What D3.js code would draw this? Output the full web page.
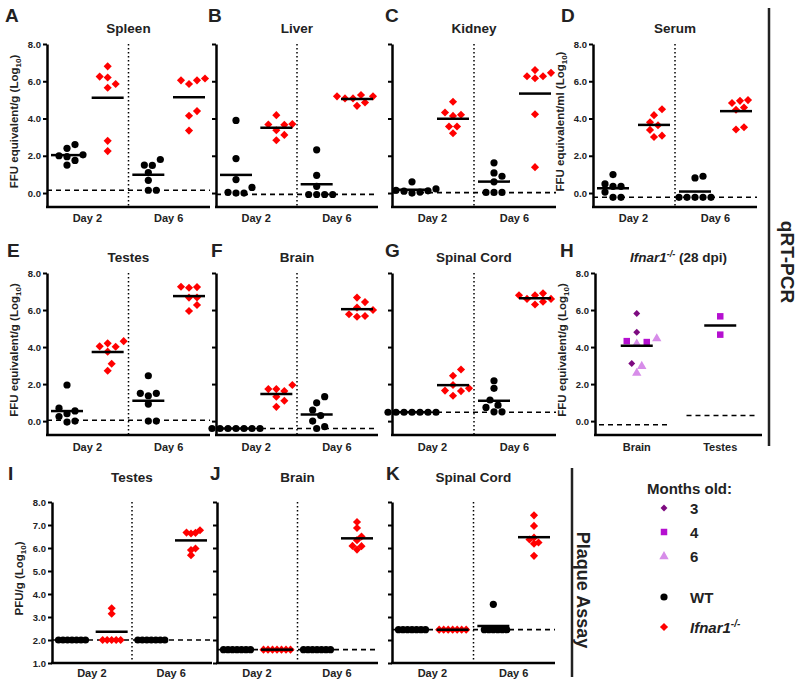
<!DOCTYPE html>
<html lang="en">
<head>
<meta charset="UTF-8">
<title>Viral load by organ</title>
<style>
  body { margin: 0; background: #fff; }
  svg text { font-family: "Liberation Sans", Arial, sans-serif; fill: #222; }
</style>
</head>
<body>
<div class="chart"></div>
<script src="https://cdn.jsdelivr.net/npm/d3@7"></script>
<script>
var W = 800, H = 687;

// columns per panel: WT day 2, Ifnar1 day 2, WT day 6, Ifnar1 day 6
var days = ["Day 2", "Day 6"];
var yTicksQ = [0, 2, 4, 6, 8];
var yTicksP = [1, 2, 3, 4, 5, 6, 7, 8];

// qRT-PCR, log10 FFU equivalents
var spleen = [[2.4, 2.6, 2.05, 2.0, 1.95, 1.5, 1.75], [6.8, 6.2, 6.25, 5.85, 5.65, 2.8, 2.25], [1.8, 1.5, 1.48, 1.1, 0.68, 0.15, 0.15], [6.05, 5.85, 6.05, 6.15, 4.4, 4.15, 3.35]];
var liver = [[3.9, 1.85, 0.72, 0.3, 0.04, 0.0, 0.0], [4.18, 3.7, 3.66, 3.68, 3.37, 3.12, 2.83], [2.32, 0.95, 0.36, -0.08, -0.08, -0.08, -0.08], [5.26, 5.19, 5.19, 5.08, 5.08, 4.86, 4.68]];
var kidney = [[0.6, 0.22, 0.15, 0.12, 0.05, 0.0, 0.1], [4.9, 4.2, 4.14, 4.32, 3.57, 3.57, 3.21], [1.62, 0.9, 1.08, 0.6, 0.03, 0.03, 0.03], [6.6, 6.27, 6.27, 6.16, 6.45, 4.23, 1.39]];
var serum = [[0.99, 0.36, 0.49, 0.05, 0.36, -0.23, -0.23], [4.5, 4.18, 3.8, 3.39, 3.64, 3.01, 3.08], [0.9, 0.81, -0.23, -0.23, -0.23, -0.23, -0.23], [4.95, 4.59, 4.47, 4.83, 4.99, 3.41, 3.53]];
var testesQ = [[1.95, 0.7, 0.55, 0.4, 0.25, 0.0, -0.05], [4.2, 4.02, 4.32, 4.04, 3.75, 3.1, 2.72], [2.45, 1.5, 1.5, 1.37, 0.92, 0.0, 0.0], [7.26, 7.2, 7.24, 6.68, 6.67, 6.27, 5.95]];
var brainQ = [[-0.4, -0.4, -0.4, -0.4, -0.4, -0.4, -0.4], [1.95, 1.73, 1.73, 1.62, 1.32, 1.1, 0.77], [1.32, 0.99, 0.6, 0.3, 0.0, -0.3, -0.4], [6.67, 6.43, 6.13, 6.0, 5.77, 5.64, 5.68]];
var spinalQ = [[0.48, 0.48, 0.48, 0.48, 0.48, 0.48, 0.48], [2.79, 2.45, 1.95, 1.62, 1.37, 1.77, 1.65], [2.18, 1.77, 1.14, 0.86, 0.74, 0.5, 0.5], [6.9, 6.8, 6.8, 6.6, 6.6, 6.3, 6.45]];
var limitsQ = [0.15, -0.07, 0.02, -0.23, 0.05, -0.4, 0.48];

// Ifnar1-/- 28 dpi, by age in months
var hCats = ["Brain", "Testes"];
var brain28m3 = [5.81, 4.8, 3.11];
var brain28m4 = [4.27, 4.32];
var brain28m6 = [4.48, 4.2, 2.62, 2.99];
var testes28m4 = [5.66, 4.67];
var limits28 = [-0.2, 0.3];

// plaque assay, log10 PFU/g
var testesP = [[2.0, 2.0, 2.0, 2.0, 2.0, 2.0, 2.0], [3.38, 3.14, 2.0, 2.0, 2.0, 2.0, 2.0], [2.0, 2.0, 2.0, 2.0, 2.0, 2.0, 2.0], [6.77, 6.66, 6.63, 6.67, 5.98, 5.69, 5.91]];
var brainP = [[1.58, 1.58, 1.58, 1.58, 1.58, 1.58, 1.58], [1.58, 1.58, 1.58, 1.58, 1.58, 1.58, 1.58], [1.58, 1.58, 1.58, 1.58, 1.58, 1.58, 1.58], [7.13, 6.87, 6.5, 6.34, 6.09, 6.08, 5.93]];
var spinalP = [[2.45, 2.45, 2.45, 2.45, 2.45, 2.45, 2.45], [2.45, 2.45, 2.45, 2.45, 2.45, 2.45, 2.45], [3.55, 2.45, 2.45, 2.45, 2.45, 2.45, 2.45], [7.42, 6.96, 6.45, 6.37, 6.24, 6.19, 5.66]];
var limitsP = [2.0, 1.58, 2.45];

var colWT = "#000", colKO = "#ff0000";
var colAge = {m3: "#7d0a80", m4: "#b510d0", m6: "#d78de9"};

var svg = d3.select(".chart").append("svg")
    .attr("width", W).attr("height", H);

var rows = [
    {domain: [-0.75, 8], range: [207, 44], ticks: yTicksQ, letterY: 22, titleY: 33, dayY: 222, minD: 7.5, step: 4},
    {domain: [-0.75, 8], range: [435, 273], ticks: yTicksQ, letterY: 257, titleY: 262, dayY: 451, minD: 7.5, step: 4},
    {domain: [1, 8], range: [663, 502], ticks: yTicksP, letterY: 480, titleY: 482, dayY: 677, minD: 4.5, step: 4.5}
];

var panels = [
    {letter: "A", row: 0, x0: 47, x1: 210, lx: 5, title: "Spleen", data: spleen, limit: limitsQ[0], ylab: "FFU equivalent/g"},
    {letter: "B", row: 0, x0: 216, x1: 378, lx: 208, title: "Liver", data: liver, limit: limitsQ[1]},
    {letter: "C", row: 0, x0: 392, x1: 556, lx: 385, title: "Kidney", data: kidney, limit: limitsQ[2]},
    {letter: "D", row: 0, x0: 593, x1: 757, lx: 561, title: "Serum", data: serum, limit: limitsQ[3], ylab: "FFU equivalent/ml"},
    {letter: "E", row: 1, x0: 47, x1: 210, lx: 7, title: "Testes", data: testesQ, limit: limitsQ[4], ylab: "FFU equivalent/g"},
    {letter: "F", row: 1, x0: 216, x1: 378, lx: 211, title: "Brain", data: brainQ, limit: limitsQ[5]},
    {letter: "G", row: 1, x0: 392, x1: 556, lx: 385, title: "Spinal Cord", data: spinalQ, limit: limitsQ[6]},
    {letter: "I", row: 2, x0: 52, x1: 212, lx: 8, title: "Testes", data: testesP, limit: limitsP[0], ylab: "PFU/g"},
    {letter: "J", row: 2, x0: 217, x1: 378, lx: 210, title: "Brain", data: brainP, limit: limitsP[1]},
    {letter: "K", row: 2, x0: 392, x1: 555, lx: 386, title: "Spinal Cord", data: spinalP, limit: limitsP[2]}
];

var diamond = d3.symbol(d3.symbolSquare, 33);

// spread points that would overlap sideways, like a column scatter
function dodge(vals, y, cx, minD, step) {
    var placed = [];
    vals.map(function(v, i) { return {v: v, i: i}; })
        .sort(function(a, b) { return a.v - b.v; })
        .forEach(function(o) {
            var py = y(o.v);
            for (var k = 0; k < 60; k++) {
                var off = (k === 0 ? 0 : (k % 2 ? 1 : -1) * Math.ceil(k / 2)) * step;
                var ok = placed.every(function(p) {
                    return Math.pow(p.x - (cx + off), 2) + Math.pow(p.y - py, 2) >= minD * minD;
                });
                if (ok) { placed.push({x: cx + off, y: py, v: o.v, src: o.i}); break; }
            }
        });
    return placed;
}

function drawMark(g, p, kind, color) {
    if (kind === "circle") {
        g.append("circle").attr("cx", p.x).attr("cy", p.y).attr("r", 3.6).attr("fill", color);
    } else if (kind === "diamond") {
        g.append("path").attr("d", diamond).attr("fill", color)
            .attr("transform", "translate(" + p.x + "," + p.y + ") rotate(45)");
    } else if (kind === "smalldiamond") {
        g.append("path").attr("d", d3.symbol(d3.symbolSquare, 24)).attr("fill", color)
            .attr("transform", "translate(" + p.x + "," + p.y + ") rotate(45)");
    } else if (kind === "square") {
        g.append("path").attr("d", d3.symbol(d3.symbolSquare, 42)).attr("fill", color)
            .attr("transform", "translate(" + p.x + "," + p.y + ")");
    } else if (kind === "triangle") {
        g.append("path").attr("d", d3.symbol(d3.symbolTriangle, 38)).attr("fill", color)
            .attr("transform", "translate(" + p.x + "," + (p.y + 0.5) + ")");
    }
}

function yLabel(text, x, cy) {
    var t = svg.append("text")
        .attr("transform", "translate(" + x + "," + cy + ") rotate(-90)")
        .attr("text-anchor", "middle")
        .attr("dy", "0.35em")
        .style("font-size", "11.5px").style("font-weight", "bold");
    t.append("tspan").text(text + " (Log");
    t.append("tspan").attr("dy", 3).style("font-size", "8px").text("10");
    t.append("tspan").attr("dy", -3).text(")");
}

function frame(p, rc, y) {
    var g = svg.append("g");
    var yAxis = d3.axisLeft(y).tickValues(rc.ticks).tickSize(4).tickSizeOuter(0)
        .tickFormat(p.ylab ? d3.format(".1f") : "");
    var ax = g.append("g").attr("transform", "translate(" + p.x0 + ",0)").call(yAxis);
    ax.select(".domain").attr("stroke", "#000").attr("stroke-width", 2.5);
    ax.selectAll(".tick line").attr("stroke", "#000").attr("stroke-width", 2);
    ax.selectAll(".tick text").attr("x", -6).style("font-size", "9.5px")
        .style("font-weight", "bold").style("font-family", "Liberation Sans, Arial, sans-serif").attr("fill", "#333");
    g.append("line").attr("x1", p.x0 - 1).attr("x2", p.x1)
        .attr("y1", rc.range[0]).attr("y2", rc.range[0])
        .attr("stroke", "#000").attr("stroke-width", 2.5);
    svg.append("text").attr("x", p.lx).attr("y", rc.letterY)
        .style("font-size", "19px").style("font-weight", "bold").attr("fill", "#111").text(p.letter);
    return g;
}

panels.forEach(function(p) {
    var rc = rows[p.row];
    var y = d3.scaleLinear().domain(rc.domain).range(rc.range);
    var x = d3.scalePoint().domain([0, 1, 2, 3]).range([p.x0 + 20, p.x1 - 21]);
    var g = svg.append("g");

    // detection limit and day divider
    g.append("line").attr("x1", p.x0).attr("x2", p.x1)
        .attr("y1", y(p.limit)).attr("y2", y(p.limit))
        .attr("stroke", "#000").attr("stroke-width", 1.6).attr("stroke-dasharray", "5,4");
    var mid = (p.x0 + p.x1) / 2;
    g.append("line").attr("x1", mid).attr("x2", mid)
        .attr("y1", rc.range[1]).attr("y2", rc.range[0])
        .attr("stroke", "#000").attr("stroke-width", 1.5).attr("stroke-dasharray", "1.5,2.5");

    p.data.forEach(function(vals, i) {
        var pts = dodge(vals, y, x(i), rc.minD, rc.step);
        pts.forEach(function(pt) {
            drawMark(g, pt, i % 2 ? "diamond" : "circle", i % 2 ? colKO : colWT);
        });
        var m = d3.mean(vals);
        g.append("line").attr("x1", x(i) - 16).attr("x2", x(i) + 16)
            .attr("y1", y(m)).attr("y2", y(m))
            .attr("stroke", "#000").attr("stroke-width", 2.5);
    });

    frame(p, rc, y);

    svg.append("text").attr("x", mid).attr("y", rc.titleY).attr("text-anchor", "middle")
        .style("font-size", "13.5px").style("font-weight", "bold").text(p.title);
    days.forEach(function(d, k) {
        svg.append("text").attr("x", (x(2 * k) + x(2 * k + 1)) / 2).attr("y", rc.dayY)
            .attr("text-anchor", "middle").style("font-size", "11px").style("font-weight", "bold").text(d);
    });
    if (p.ylab) {
        yLabel(p.ylab, p.x0 - 33, (rc.range[0] + rc.range[1]) / 2 - 4);
    }
});

// panel H: Ifnar1-/- at 28 dpi
(function() {
    var p = {letter: "H", row: 1, x0: 595, x1: 762, lx: 560, ylab: "FFU equivalent/g"};
    var rc = rows[1];
    var y = d3.scaleLinear().domain(rc.domain).range(rc.range);
    var x = d3.scaleBand().domain(hCats).range([p.x0, p.x1]);
    var g = svg.append("g");
    hCats.forEach(function(c, i) {
        g.append("line").attr("x1", x(c) + (i ? 8 : 4)).attr("x2", x(c) + x.bandwidth() - (i ? 5 : 9))
            .attr("y1", y(limits28[i])).attr("y2", y(limits28[i]))
            .attr("stroke", "#000").attr("stroke-width", 1.6).attr("stroke-dasharray", "5,4");
    });
    var cb = x("Brain") + x.bandwidth() / 2, ct = x("Testes") + x.bandwidth() / 2;
    var brainVals = brain28m3.concat(brain28m4, brain28m6);
    var kinds = brain28m3.map(function() { return "m3"; })
        .concat(brain28m4.map(function() { return "m4"; }), brain28m6.map(function() { return "m6"; }));
    dodge(brainVals, y, cb, 7.5, 5).forEach(function(pt) {
        var k = kinds[pt.src];
        drawMark(g, pt, k === "m3" ? "smalldiamond" : k === "m4" ? "square" : "triangle", colAge[k]);
    });
    dodge(testes28m4, y, ct, 7.5, 5).forEach(function(pt) { drawMark(g, pt, "square", colAge.m4); });
    [[cb, brainVals], [ct, testes28m4]].forEach(function(d) {
        var m = d3.mean(d[1]);
        g.append("line").attr("x1", d[0] - 16).attr("x2", d[0] + 16)
            .attr("y1", y(m)).attr("y2", y(m)).attr("stroke", "#000").attr("stroke-width", 2.5);
    });
    frame(p, rc, y);
    var t = svg.append("text").attr("x", (p.x0 + p.x1) / 2).attr("y", rc.titleY).attr("text-anchor", "middle")
        .style("font-size", "13.5px").style("font-weight", "bold");
    t.append("tspan").style("font-style", "italic").text("Ifnar1");
    t.append("tspan").attr("dy", -5).style("font-size", "9px").style("font-style", "italic").text("-/-");
    t.append("tspan").attr("dy", 5).text(" (28 dpi)");
    hCats.forEach(function(c) {
        svg.append("text").attr("x", x(c) + x.bandwidth() / 2).attr("y", rc.dayY)
            .attr("text-anchor", "middle").style("font-size", "11px").style("font-weight", "bold").text(c);
    });
    yLabel(p.ylab, p.x0 - 33, (rc.range[0] + rc.range[1]) / 2 - 4);
})();

// assay brackets on the right
svg.append("line").attr("x1", 769).attr("x2", 769).attr("y1", 8).attr("y2", 446)
    .attr("stroke", "#222").attr("stroke-width", 2.5);
svg.append("text").attr("transform", "translate(781,262) rotate(90)").attr("text-anchor", "middle")
    .style("font-size", "19px").style("font-weight", "bold").text("qRT-PCR");
svg.append("line").attr("x1", 572).attr("x2", 572).attr("y1", 468).attr("y2", 677)
    .attr("stroke", "#222").attr("stroke-width", 2.5);
svg.append("text").attr("transform", "translate(577,590) rotate(90)").attr("text-anchor", "middle")
    .style("font-size", "18px").style("font-weight", "bold").text("Plaque Assay");

// legend
var leg = svg.append("g");
leg.append("text").attr("x", 647).attr("y", 494).style("font-size", "15px").style("font-weight", "bold").text("Months old:");
var legItems = [
    {kind: "smalldiamond", color: colAge.m3, label: "3", y: 508},
    {kind: "square", color: colAge.m4, label: "4", y: 532},
    {kind: "triangle", color: colAge.m6, label: "6", y: 556},
    {kind: "circle", color: colWT, label: "WT", y: 597},
    {kind: "diamond", color: colKO, label: "Ifnar1", y: 627}
];
legItems.forEach(function(d) {
    drawMark(leg, {x: 664, y: d.y}, d.kind, d.color);
    var t = leg.append("text").attr("x", 690).attr("y", d.y + 5.5)
        .style("font-size", "15px").style("font-weight", "bold");
    if (d.label === "Ifnar1") {
        t.append("tspan").style("font-style", "italic").text("Ifnar1");
        t.append("tspan").attr("dy", -6).style("font-size", "10px").style("font-style", "italic").text("-/-");
    } else {
        t.text(d.label);
    }
});
</script>
</body>
</html>
